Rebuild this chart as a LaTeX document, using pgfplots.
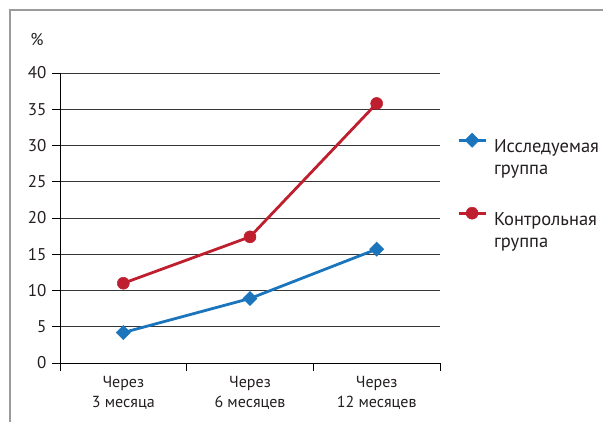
\documentclass[border=0pt]{standalone}
\usepackage{fontspec}
\setmainfont{PT Sans}
\usepackage{pgfplots}
\pgfplotsset{compat=1.18}
\definecolor{cblue}{RGB}{27,117,188}
\definecolor{cred}{RGB}{190,30,45}
\definecolor{gridc}{RGB}{55,55,55}
\definecolor{framec}{RGB}{155,155,155}
\definecolor{txt}{RGB}{35,31,32}
\begin{document}
\begin{tikzpicture}[x=1pt,y=1pt]
\path[use as bounding box] (-60,-58) rectangle (543,363);
\draw[framec, line width=1.2pt] (-50,-90) -- (-50,353) -- (600,353);
\begin{axis}[
  at={(0,0)}, anchor=south west,
  scale only axis, width=380pt, height=290pt,
  xmin=-0.5, xmax=2.5, ymin=0, ymax=40,
  axis x line*=bottom, axis y line*=left,
  axis line style={black, line width=0.8pt, -},
  ytick={0,5,...,40},
  ymajorgrids, grid style={gridc, line width=0.8pt},
  tick align=outside,
  major tick length=8pt,
  tick style={black, line width=0.8pt},
  xtick={-0.5,0.5,1.5,2.5}, xticklabels={},
  extra x ticks={0,1,2},
  extra x tick labels={{Через\\3 месяца},{Через\\6 месяцев},{Через\\12 месяцев}},
  extra x tick style={major tick length=0pt, tick style={draw=none}},
  xticklabel style={align=center, font=\fontsize{16}{20}\selectfont, text=txt, yshift=-10pt},
  yticklabel style={font=\fontsize{17}{20}\selectfont, text=txt, xshift=-2pt},
  /pgf/number format/assume math mode=true,
  ylabel={\%},
  ylabel style={at={(axis description cs:0,1)}, rotate=-90, anchor=center, xshift=-23pt, yshift=33pt, font=\fontsize{17}{20}\selectfont, text=txt},
  legend style={draw=none, fill=none, at={(axis description cs:1,0.80)}, anchor=north west, xshift=14pt,
    font=\fontsize{18.5}{22}\selectfont, text=txt, cells={anchor=west}, row sep=40pt},
  legend image code/.code={\draw[mark repeat=2,mark phase=2,#1] plot coordinates {(0pt,11pt) (13.5pt,11pt) (27pt,11pt)};},
]
\addplot[cblue, line width=2.8pt, mark=square*, mark size=5pt, mark options={rotate=45, solid, line width=0.5pt}] coordinates {(0,4.2) (1,8.9) (2,15.7)};
\addlegendentry{\begin{tabular}{@{\hspace{5pt}}l@{}}Исследуемая\\группа\end{tabular}}
\addplot[cred, line width=2.8pt, mark=*, mark size=6pt, mark options={solid, line width=0.5pt}] coordinates {(0,11.0) (1,17.4) (2,35.8)};
\addlegendentry{\begin{tabular}{@{\hspace{5pt}}l@{}}Контрольная\\группа\end{tabular}}
\end{axis}
\end{tikzpicture}
\end{document}
